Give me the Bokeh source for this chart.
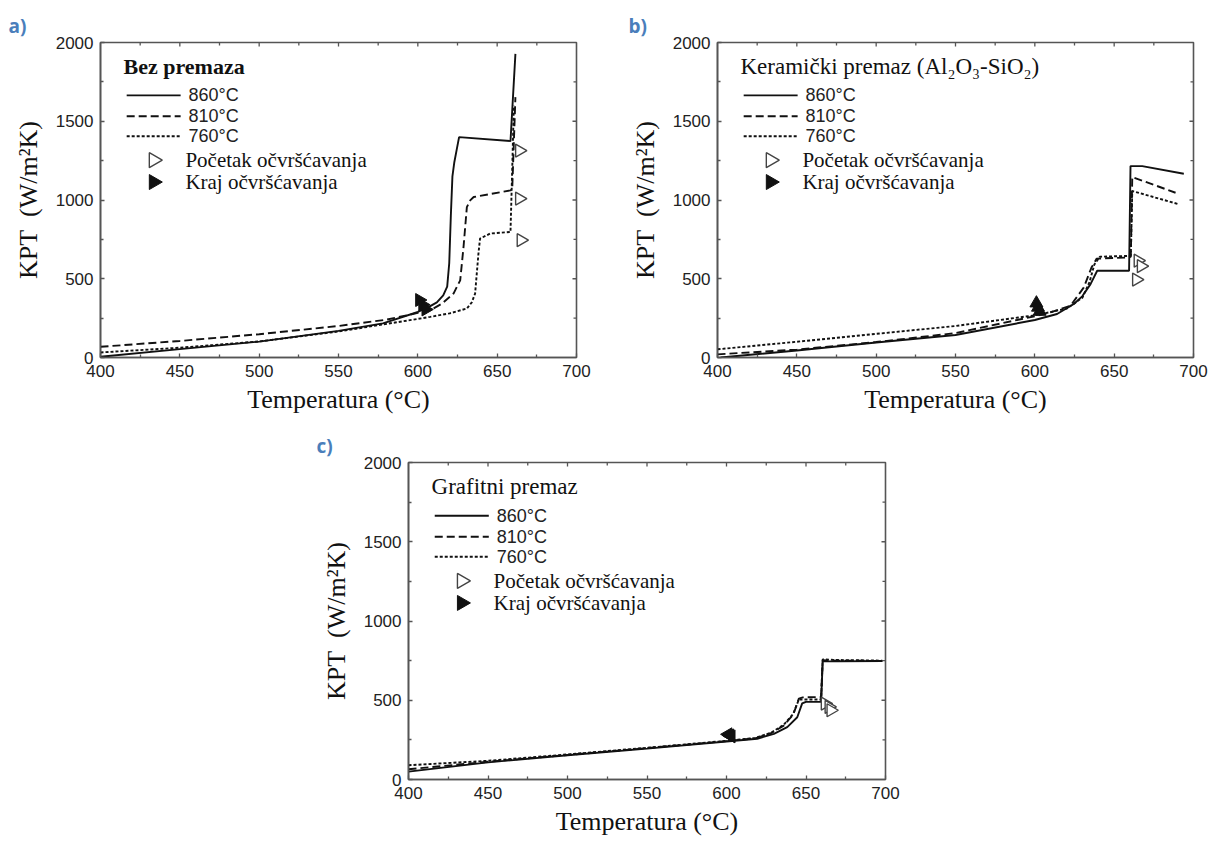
import math
from bokeh.plotting import figure
from bokeh.models import Range1d, FixedTicker, Label, Spacer
from bokeh.layouts import column, row
from bokeh.embed import file_html
from bokeh.resources import INLINE

# ---------------- data ----------------
x_ticks = [400, 450, 500, 550, 600, 650, 700]
x_minor = [425, 475, 525, 575, 625, 675]
y_ticks = [0, 500, 1000, 1500, 2000]
y_minor = [250, 750, 1250, 1750]
series_labels = ["860°C", "810°C", "760°C"]
marker_labels = ["Početak očvršćavanja", "Kraj očvršćavanja"]
panel_labels = ["a)", "b)", "c)"]
panel_titles = ["Bez premaza", "Keramički premaz (Al₂O₃-SiO₂)", "Grafitni premaz"]
x_label = "Temperatura (°C)"
y_label = "KPT\u00a0\u00a0(W/m²K)"

# Panel a) Bez premaza
a_x_860 = [400, 450, 500, 550, 578, 600, 607, 612, 616, 618.5, 619.8, 620.8, 621.8, 623, 624.5, 626, 658.4, 661.5]
a_y_860 = [5, 53, 101, 169, 217, 289, 321, 350, 395, 450, 600, 900, 1150, 1240, 1320, 1399, 1374, 1928]
a_x_810 = [400, 450, 500, 550, 580, 600, 607.8, 615.2, 622.5, 626.7, 628.8, 630.9, 633, 635.2, 658.4, 659.5, 661.5]
a_y_810 = [68, 105, 148, 200, 240, 283, 300, 342, 406, 490, 702, 955, 998, 1019, 1061, 1070, 1653]
a_x_760 = [400, 450, 500, 550, 575, 600, 607.8, 620, 630.9, 634, 636.1, 638.2, 639.2, 645.6, 658.4, 659.5, 660.5]
a_y_760 = [32, 62, 102, 165, 205, 245, 258, 280, 311, 350, 406, 660, 755, 787, 797, 1200, 1600]
a_open_x = [664, 664, 665]
a_open_y = [1314, 1009, 745]
a_fill_x = [601, 603, 605]
a_fill_y = [365, 335, 305]

# Panel b) Keramicki premaz
b_x_860 = [402, 450, 500, 550, 600, 614, 624.6, 630, 635.1, 639.3, 659.4, 660.3, 667.7, 693.9]
b_y_860 = [0, 44, 95, 143, 238, 276, 340, 390, 466, 551, 551, 1215, 1215, 1167]
b_x_810 = [400, 450, 500, 550, 600, 609.9, 622.5, 630.9, 635.7, 639, 659.4, 660.5, 661.4, 688.7]
b_y_810 = [20, 50, 98, 155, 262, 287, 329, 445, 571, 628, 635, 640, 1146, 1046]
b_x_760 = [400, 450, 500, 550, 600, 620, 630, 634.5, 637.5, 641, 659.4, 660.5, 661.4, 690.8]
b_y_760 = [52, 100, 150, 200, 268, 310, 380, 480, 590, 640, 645, 650, 1057, 973]
b_open_x = [665, 667, 664]
b_open_y = [615, 580, 495]
b_fill_x = [601, 602, 603]
b_fill_y = [345, 318, 292]

# Panel c) Grafitni premaz
c_x_860 = [400, 450, 500, 550, 600, 619.3, 629.8, 638.2, 644.5, 647.6, 650, 659.5, 660.5, 670, 698]
c_y_860 = [50, 108, 153, 195, 240, 257, 288, 330, 393, 480, 490, 490, 745, 745, 748]
c_x_810 = [400, 450, 500, 550, 600, 618, 628, 636, 642, 645.5, 648, 659.5, 660.5, 670, 698]
c_y_810 = [65, 112, 155, 198, 242, 260, 292, 340, 410, 510, 518, 520, 752, 750, 748]
c_x_760 = [400, 450, 500, 550, 600, 618, 628, 636, 642, 645.5, 648, 659.5, 660.5, 670, 698]
c_y_760 = [90, 118, 158, 200, 244, 262, 295, 345, 415, 505, 505, 505, 758, 754, 750]
c_open_x = [662, 664.4, 665.6]
c_open_y = [479, 458, 437]
c_fill_x = [601, 602, 603]
c_fill_y = [285, 278, 272]

# ---------------- style ----------------
LINE_COLOR = "#111111"
AXIS_COLOR = "#555555"
DASHES = ["solid", "8 4", "3 2"]
SERIF = "Liberation Serif"
SANS = "Liberation Sans"
RIGHT = -math.pi / 2
FILL_ANGLES = [-math.pi / 2, 0.0, math.pi / 2]
MAJ_PX, MIN_PX = 4, 3


def style_axis(ax):
    ax.axis_line_color = AXIS_COLOR
    ax.axis_line_width = 1.6
    ax.major_tick_line_color = AXIS_COLOR
    ax.minor_tick_line_color = AXIS_COLOR
    ax.major_tick_line_width = 1.3
    ax.minor_tick_line_width = 1.3
    ax.major_tick_in = MAJ_PX
    ax.major_tick_out = 0
    ax.minor_tick_in = MIN_PX
    ax.minor_tick_out = 0
    ax.major_label_text_font = SANS
    ax.major_label_text_font_size = "17px"
    ax.major_label_text_color = "#222222"
    ax.major_label_standoff = 7
    ax.axis_label_text_font = SERIF
    ax.axis_label_text_font_size = "26px"
    ax.axis_label_text_font_style = "normal"
    ax.axis_label_text_color = "#111111"


def make_panel(idx, series, open_pts, fill_pts, width, height, bl, br, bt, bb, title_style):
    frame_w = width - bl - br
    frame_h = height - bt - bb
    p = figure(width=width, height=height, x_range=Range1d(400, 700), y_range=Range1d(0, 2000),
               output_backend="svg", toolbar_location=None,
               min_border_left=bl, min_border_right=br, min_border_top=bt, min_border_bottom=bb,
               title=panel_labels[idx])
    p.title.align = "left"
    p.title.offset = -(bl - 8)
    p.title.text_font = "Open Sans"
    p.title.text_font_style = "bold"
    p.title.text_font_size = "19px"
    p.title.text_color = "#4a7ebb"
    p.title.standoff = 8
    p.outline_line_color = AXIS_COLOR
    p.outline_line_width = 1.6
    p.grid.visible = False
    p.background_fill_color = "white"
    p.border_fill_color = "white"

    xt = FixedTicker(ticks=x_ticks, minor_ticks=x_minor)
    yt = FixedTicker(ticks=y_ticks, minor_ticks=y_minor)
    p.xaxis.ticker = xt
    p.yaxis.ticker = yt
    style_axis(p.xaxis[0])
    style_axis(p.yaxis[0])
    p.xaxis.axis_label = x_label
    p.yaxis.axis_label = y_label
    p.xaxis.axis_label_standoff = 5
    p.yaxis.axis_label_standoff = 10

    # ticks on top and right frame edges, from the same tick lists
    dy_maj = MAJ_PX * 2000 / frame_h
    dy_min = MIN_PX * 2000 / frame_h
    dx_maj = MAJ_PX * 300 / frame_w
    dx_min = MIN_PX * 300 / frame_w
    tx = x_ticks[1:-1]
    p.segment(x0=tx, y0=[2000] * len(tx), x1=tx, y1=[2000 - dy_maj] * len(tx),
              line_color=AXIS_COLOR, line_width=1.3)
    p.segment(x0=x_minor, y0=[2000] * len(x_minor), x1=x_minor, y1=[2000 - dy_min] * len(x_minor),
              line_color=AXIS_COLOR, line_width=1.3)
    ty = y_ticks[1:-1]
    p.segment(x0=[700] * len(ty), y0=ty, x1=[700 - dx_maj] * len(ty), y1=ty,
              line_color=AXIS_COLOR, line_width=1.3)
    p.segment(x0=[700] * len(y_minor), y0=y_minor, x1=[700 - dx_min] * len(y_minor), y1=y_minor,
              line_color=AXIS_COLOR, line_width=1.3)

    for (xs, ys), dash in zip(series, DASHES):
        p.line(xs, ys, line_color=LINE_COLOR, line_width=1.9, line_dash=dash)

    p.scatter(open_pts[0], open_pts[1], marker="triangle", size=13, angle=RIGHT,
              fill_color="white", line_color="#444444", line_width=1.4)
    p.scatter(fill_pts[0], fill_pts[1], marker="triangle", size=13, angle=FILL_ANGLES[idx],
              fill_color="#111111", line_color="#111111", line_width=1)

    # legend block (data-space placement)
    t_size, t_style = title_style
    p.add_layout(Label(x=414.5, y=1848, text=panel_titles[idx], text_font=SERIF,
                       text_font_size=t_size, text_font_style=t_style,
                       text_baseline="middle", text_color="#111111"))
    for k, (ly, dash) in enumerate(zip([1664, 1532, 1405], DASHES)):
        p.line([416.5, 450.5], [ly, ly], line_color=LINE_COLOR, line_width=1.9, line_dash=dash)
        p.add_layout(Label(x=455.5, y=ly, text=series_labels[k], text_font=SANS,
                           text_font_size="18px", text_baseline="middle", text_color="#222222"))
    p.scatter([433.5], [1253], marker="triangle", size=15, angle=RIGHT,
              fill_color="white", line_color="#444444", line_width=1.4)
    p.scatter([433.5], [1114], marker="triangle", size=15, angle=RIGHT,
              fill_color="#111111", line_color="#111111")
    for ly, txt in zip([1253, 1114], marker_labels):
        p.add_layout(Label(x=453.5, y=ly, text=txt, text_font=SERIF,
                           text_font_size="21px", text_baseline="middle", text_color="#111111"))
    return p


pa = make_panel(0, [(a_x_860, a_y_860), (a_x_810, a_y_810), (a_x_760, a_y_760)],
                (a_open_x, a_open_y), (a_fill_x, a_fill_y), 620, 420, 100, 44, 42, 63,
                ("22px", "bold"))
pb = make_panel(1, [(b_x_860, b_y_860), (b_x_810, b_y_810), (b_x_760, b_y_760)],
                (b_open_x, b_open_y), (b_fill_x, b_fill_y), 600, 420, 97, 27, 42, 63,
                ("23px", "normal"))
pc = make_panel(2, [(c_x_860, c_y_860), (c_x_810, c_y_810), (c_x_760, c_y_760)],
                (c_open_x, c_open_y), (c_fill_x, c_fill_y), 607, 419, 100, 30, 42, 60,
                ("23px", "normal"))

layout = column(row(pa, pb), row(Spacer(width=308, height=419), pc))

open("out.html", "w").write(file_html(layout, INLINE))
